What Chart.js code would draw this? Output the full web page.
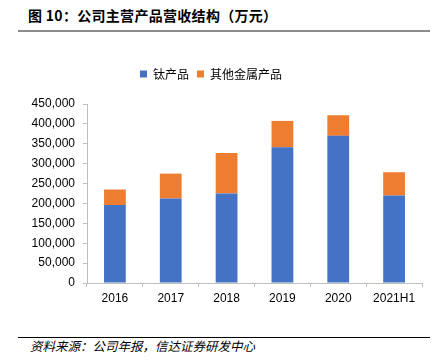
<!DOCTYPE html>
<html lang="zh">
<head>
<meta charset="UTF-8">
<title>公司主营产品营收结构</title>
<script src="https://cdn.jsdelivr.net/npm/chart.js"></script>
<style>
    body { margin: 0; background: #fff; width: 443px; height: 363px; position: relative; overflow: hidden; }
    .title { position: absolute; left: 28px; top: 5px; font: bold 14px "Noto Sans CJK SC", sans-serif; color: #000; white-space: nowrap; letter-spacing: 0.3px; }
    .line-top { position: absolute; left: 18px; top: 30px; width: 412px; height: 2px; background: #8c8c8c; }
    .line-bottom { position: absolute; left: 18px; top: 337px; width: 412px; height: 1px; background: #000; }
    .source { position: absolute; left: 30px; top: 336px; font: italic 12.5px "Noto Sans CJK SC", sans-serif; color: #000; white-space: nowrap; }
    .chart-box { position: absolute; left: 0; top: 40px; width: 443px; height: 280px; }
</style>
</head>
<body>
<div class="title">图 10：公司主营产品营收结构（万元）</div>
<div class="line-top"></div>
<div class="chart-box"><canvas id="revChart"></canvas></div>
<div class="line-bottom"></div>
<div class="source">资料来源：公司年报，信达证券研发中心</div>
<script>
const years = ['2016', '2017', '2018', '2019', '2020', '2021H1'];
const titanium = [196000, 212500, 225000, 341000, 370000, 220000];
const otherMetals = [39000, 62500, 101750, 66500, 51750, 58500];

const axisGray = '#bfbfbf';
const tickFont = { family: '"Liberation Sans", Arial, sans-serif', size: 12 };

// push the plot area down below the legend
const legendGap = {
    id: 'legendGap',
    beforeInit(chart) {
        const origFit = chart.legend.fit;
        chart.legend.fit = function () {
            origFit.bind(chart.legend)();
            this.height += 14;
        };
    }
};

new Chart(document.getElementById('revChart'), {
    type: 'bar',
    data: {
        labels: years,
        datasets: [
            { label: '钛产品', data: titanium, backgroundColor: '#4472C4', barPercentage: 0.78, categoryPercentage: 0.5 },
            { label: '其他金属产品', data: otherMetals, backgroundColor: '#ED7D31', barPercentage: 0.78, categoryPercentage: 0.5 }
        ]
    },
    options: {
        responsive: true,
        maintainAspectRatio: false,
        animation: false,
        layout: { padding: { left: 0, right: 21, top: 20, bottom: 0 } },
        plugins: {
            legend: {
                position: 'top',
                labels: {
                    boxWidth: 7, boxHeight: 7, padding: 8,
                    color: '#000',
                    font: { family: '"Noto Sans CJK SC", sans-serif', size: 12 }
                }
            },
            tooltip: { enabled: false }
        },
        scales: {
            x: {
                stacked: true,
                grid: { display: true, drawOnChartArea: false, drawTicks: true, tickLength: 4, color: axisGray },
                border: { color: axisGray },
                ticks: { color: '#000', font: tickFont, padding: 4 },
                afterFit: s => { s.height = 37; }
            },
            y: {
                stacked: true,
                min: 0, max: 450000,
                grid: { display: true, drawOnChartArea: false, drawTicks: true, tickLength: 4, color: axisGray },
                border: { color: axisGray },
                ticks: {
                    stepSize: 50000, color: '#000', font: tickFont, padding: 8,
                    callback: v => v.toLocaleString('en-US')
                },
                afterFit: s => { s.width = 87; }
            }
        }
    },
    plugins: [legendGap]
});
</script>
</body>
</html>
